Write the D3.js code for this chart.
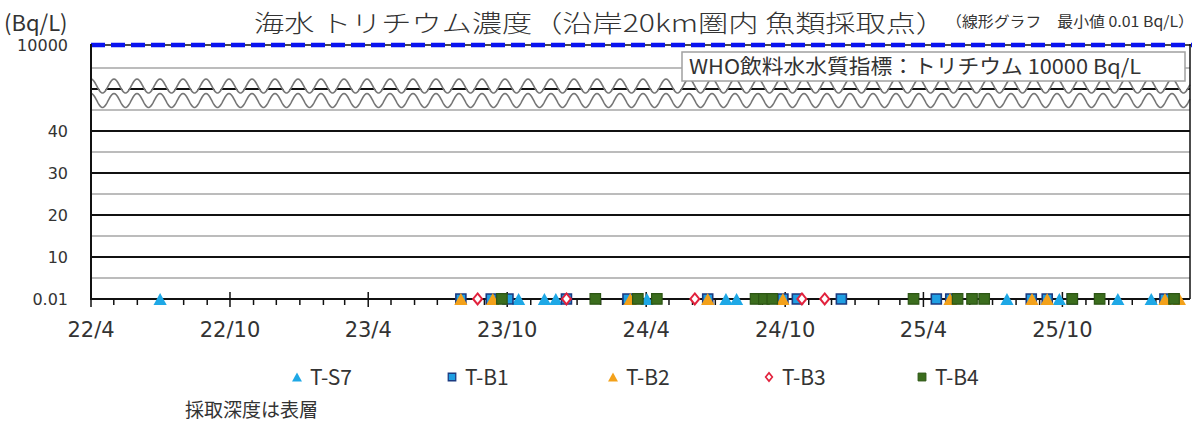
<!DOCTYPE html>
<html><head><meta charset="utf-8">
<script src="https://cdn.jsdelivr.net/npm/d3@7"></script>
<style>body{margin:0;background:#fff}svg{display:block}</style>
</head><body><svg id="c" width="1201" height="421"></svg>
<script>
// ---- data ----
const seriesNames = ["T-S7","T-B1","T-B2","T-B3","T-B4"];
const xTickLabels = ["22/4","22/10","23/4","23/10","24/4","24/10","25/4","25/10"];
const yTickValues = [0.01,10,20,30,40,10000];
const yTickLabels = ["0.01","10","20","30","40","10000"];
const guideValue = 10000;
const guideLabel = "WHO飲料水水質指標：トリチウム 10000 Bq/L";

const datesS7 = ["2022-07-01","2023-10-16","2023-11-19","2023-12-04","2024-04-02","2024-07-15","2024-07-29","2025-07-20","2025-09-27","2025-12-13","2026-01-26"];
const valuesS7 = [0.01,0.01,0.01,0.01,0.01,0.01,0.01,0.01,0.01,0.01,0.01];
const datesB1 = ["2023-08-01","2023-09-10","2023-10-02","2023-12-18","2024-03-08","2024-06-21","2024-09-28","2024-10-17","2024-12-14","2025-04-18","2025-05-07","2025-08-21","2025-09-11","2025-10-14","2026-02-13"];
const valuesB1 = [0.01,0.01,0.01,0.01,0.01,0.01,0.01,0.01,0.01,0.01,0.01,0.01,0.01,0.01,0.01];
const datesB2 = ["2023-08-01","2023-09-12","2024-03-11","2024-06-21","2024-09-28","2025-05-06","2025-08-22","2025-09-11","2026-02-13","2026-03-04"];
const valuesB2 = [0.01,0.01,0.01,0.01,0.01,0.01,0.01,0.01,0.01,0.01];
const datesB3 = ["2023-08-23","2023-12-18","2024-06-04","2024-10-23","2024-11-22"];
const valuesB3 = [0.01,0.01,0.01,0.01,0.01];
const datesB4 = ["2023-09-24","2024-01-25","2024-03-21","2024-04-15","2024-08-23","2024-09-03","2024-09-14","2025-03-19","2025-05-16","2025-06-04","2025-06-20","2025-10-14","2025-11-19","2026-02-25"];
const valuesB4 = [0.01,0.01,0.01,0.01,0.01,0.01,0.01,0.01,0.01,0.01,0.01,0.01,0.01,0.01];

// ---- setup ----
const parse = d3.timeParse("%Y-%m-%d");
const svg = d3.select("#c");
svg.append("rect").attr("width",1201).attr("height",421).attr("fill","#fff");
const L = 91, R = 1190;
const x = d3.scaleTime().domain([parse("2022-04-01"), parse("2026-03-18")]).range([L, R]);
const y = d3.scaleLinear().domain([0,40,45,50,9995,10000]).range([299,131,110,89,68,45]);
const jpFont = "'Noto Sans CJK JP','Noto Sans',sans-serif";
const numFont = "'DejaVu Sans',Verdana,sans-serif";
const txt = "#333";

// grid
const gray = [5,15,25,35,45,9995];
const black = [10,20,30,40,50];
svg.append("g").selectAll("line").data(gray).join("line")
  .attr("x1",L).attr("x2",R).attr("y1",d=>y(d)).attr("y2",d=>y(d))
  .attr("stroke","#a6a6a6").attr("stroke-width",1.5);
svg.append("g").selectAll("line").data(black).join("line")
  .attr("x1",L).attr("x2",R).attr("y1",d=>y(d)).attr("y2",d=>y(d))
  .attr("stroke","#111").attr("stroke-width",2);

// axis break waves
const period = 23, amp = 7;
function wave(cy, phase){
  const pts = [];
  for(let px=L; px<=R; px+=1) pts.push([px, cy + amp*Math.cos(2*Math.PI*(px-L-phase)/period)]);
  return pts;
}
const up = wave(86, 11.5), lo = wave(100.5, 11.5);
const maskPts = [[L,78]].concat(up.map(p=>[p[0],p[1]-1.5])).concat([[R,78]]);
svg.append("path").attr("d", d3.line()(maskPts)+"Z").attr("fill","#fff");
svg.append("path").attr("d", d3.line()(up)).attr("fill","none").attr("stroke","#777").attr("stroke-width",1.6);
svg.append("path").attr("d", d3.line()(lo)).attr("fill","none").attr("stroke","#777").attr("stroke-width",1.6);

// guide line 10000
svg.append("line").attr("x1",L).attr("x2",R+2).attr("y1",y(guideValue)).attr("y2",y(guideValue))
  .attr("stroke","#111").attr("stroke-width",1.5);
svg.append("line").attr("x1",L).attr("x2",R+2).attr("y1",y(guideValue)).attr("y2",y(guideValue))
  .attr("stroke","#0a14f0").attr("stroke-width",4.5).attr("stroke-dasharray","14 6");

// WHO box
svg.append("rect").attr("x",682).attr("y",52).attr("width",503).attr("height",29)
  .attr("fill","#fff").attr("stroke","#a0a0a0").attr("stroke-width",1.5);
svg.append("text").attr("x",689).attr("y",74).attr("font-family",jpFont).attr("font-size",20)
  .attr("fill",txt).attr("textLength",452).attr("lengthAdjust","spacingAndGlyphs").text(guideLabel);

// axes lines
svg.append("line").attr("x1",L).attr("x2",L).attr("y1",44).attr("y2",300).attr("stroke","#111").attr("stroke-width",2);
svg.append("line").attr("x1",R).attr("x2",R).attr("y1",44).attr("y2",299).attr("stroke","#111").attr("stroke-width",1.5);
svg.append("line").attr("x1",L).attr("x2",R).attr("y1",y(0)).attr("y2",y(0)).attr("stroke","#111").attr("stroke-width",2);

// x ticks
const months = d3.timeMonth.range(x.domain()[0], x.domain()[1]);
const minor = months.filter(d => d.getMonth()!==3 && d.getMonth()!==9);
const major = months.filter(d => d.getMonth()===3 || d.getMonth()===9);
svg.append("g").selectAll("line").data(minor).join("line")
  .attr("x1",d=>x(d)).attr("x2",d=>x(d)).attr("y1",299).attr("y2",305)
  .attr("stroke","#111").attr("stroke-width",1.5);
svg.append("g").selectAll("line").data(major).join("line")
  .attr("x1",d=>x(d)).attr("x2",d=>x(d)).attr("y1",292).attr("y2",307)
  .attr("stroke","#111").attr("stroke-width",1.5);
svg.append("g").selectAll("text").data(major).join("text")
  .attr("x",d=>x(d)).attr("y",337).attr("text-anchor","middle")
  .attr("font-family",numFont).attr("font-size",21).attr("fill",txt)
  .text((d,i)=>xTickLabels[i]);

// y tick labels
svg.append("g").selectAll("text").data(yTickValues).join("text")
  .attr("x",68).attr("y",d=>y(d)+6).attr("text-anchor","end")
  .attr("font-family",numFont).attr("font-size",16).attr("fill",txt)
  .text((d,i)=>yTickLabels[i]);

// titles
svg.append("text").attr("x",4).attr("y",31).attr("font-family",jpFont).attr("font-size",22).attr("fill",txt).text("(Bq/L)");
svg.append("text").attr("x",254).attr("y",32).attr("font-family",jpFont).attr("font-size",24).attr("font-weight",300).attr("fill",txt)
  .attr("textLength",692).attr("lengthAdjust","spacingAndGlyphs").text("海水 トリチウム濃度（沿岸20km圏内 魚類採取点）");
svg.append("text").attr("x",946).attr("y",27).attr("font-family",jpFont).attr("font-size",15).attr("fill",txt)
  .attr("textLength",248).attr("lengthAdjust","spacingAndGlyphs").text("（線形グラフ　最小値 0.01 Bq/L）");

// markers
const shapes = {
  tri: s => `M0,${-s*0.5}L${s*0.55},${s*0.5}L${-s*0.55},${s*0.5}Z`,
  sq: s => `M${-s/2},${-s/2}h${s}v${s}h${-s}Z`,
  dia: s => `M0,${-s*0.55}L${s*0.45},0L0,${s*0.55}L${-s*0.45},0Z`
};
const styles = [
  {shape:"tri", size:12, fill:"#1ea8e6", stroke:"none", sw:0},
  {shape:"sq", size:10, fill:"#1f9fe3", stroke:"#1b3a80", sw:1.6},
  {shape:"tri", size:12, fill:"#f3a11a", stroke:"none", sw:0},
  {shape:"dia", size:10, fill:"#fff", stroke:"#e2223d", sw:2},
  {shape:"sq", size:10.5, fill:"#3b6d1d", stroke:"#2c5514", sw:1.2}
];
const seriesDates = [datesS7, datesB1, datesB2, datesB3, datesB4];
const seriesVals = [valuesS7, valuesB1, valuesB2, valuesB3, valuesB4];
seriesDates.forEach((ds, si) => {
  const st = styles[si];
  const pts = ds.map((d,i)=>({d:parse(d), v:seriesVals[si][i]}));
  svg.append("g").selectAll("path").data(pts).join("path")
    .attr("transform",p=>`translate(${x(p.d)},${y(p.v)})`)
    .attr("d", shapes[st.shape](st.size))
    .attr("fill",st.fill).attr("stroke",st.stroke).attr("stroke-width",st.sw);
});

// legend
const legX = [297, 452, 613, 769, 922];
seriesNames.forEach((n,i) => {
  const st = styles[i];
  svg.append("path").attr("transform",`translate(${legX[i]},${377})`)
    .attr("d", shapes[st.shape](st.size*0.75))
    .attr("fill",st.fill).attr("stroke",st.stroke).attr("stroke-width",st.sw*0.8);
  svg.append("text").attr("x",legX[i]+13).attr("y",385).attr("font-family",jpFont)
    .attr("font-size",21).attr("fill",txt).text(n);
});
svg.append("text").attr("x",185).attr("y",417).attr("font-family",jpFont).attr("font-size",19).attr("fill",txt).text("採取深度は表層");
</script></body></html>
